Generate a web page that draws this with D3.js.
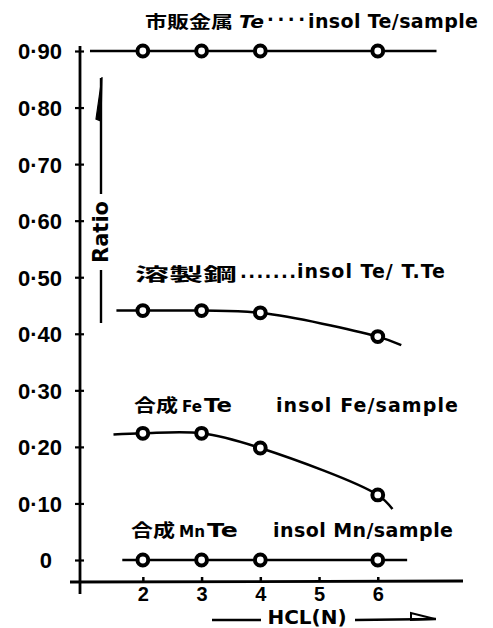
<!DOCTYPE html>
<html>
<head>
<meta charset="utf-8">
<script src="https://cdn.jsdelivr.net/npm/d3@7"></script>
<style>
  body { margin: 0; background: #fff; }
  text { font-family: "DejaVu Sans", sans-serif; font-weight: bold; fill: #000; }
  .tick text { font-family: "Liberation Sans", Arial, sans-serif; }
  .jp { font-family: "Noto Sans CJK JP", sans-serif; font-weight: bold; }
</style>
</head>
<body>
<div id="chart"></div>
<script>
// data
const hcl = [2, 3, 4, 6];
const commercialTe = [0.90, 0.90, 0.90, 0.90];   // 市販金属Te  insol Te/sample
const steelTe = [0.441, 0.441, 0.437, 0.395];    // 溶製鋼  insol Te/T.Te
const feTe = [0.224, 0.224, 0.198, 0.115];       // 合成FeTe  insol Fe/sample
const mnTe = [0, 0, 0, 0];                       // 合成MnTe  insol Mn/sample

// where each drawn curve starts and ends (HCL N, ratio)
const commercialEnds = [[1.1, 0.90], [7.0, 0.90]];
const steelEnds = [[1.55, 0.441], [6.4, 0.38]];
const feEnds = [[1.5, 0.222], [6.25, 0.09]];
const mnEnds = [[1.65, 0], [6.5, 0]];

const yTicks = [0, 0.1, 0.2, 0.3, 0.4, 0.5, 0.6, 0.7, 0.8, 0.9];
const xTicks = [2, 3, 4, 5, 6];

const width = 493;
const height = 628;

const svg = d3.select("#chart")
    .append("svg")
    .attr("width", width)
    .attr("height", height);

const x = d3.scaleLinear().domain([0.93, 7.4]).range([80, 460]);
const y = d3.scaleLinear().domain([0, 0.9]).range([560, 51]);

// axis lines (hand drawn look: y axis runs past the x axis)
svg.append("line")
    .attr("x1", x(0.93)).attr("x2", x(0.93))
    .attr("y1", 46).attr("y2", 594)
    .attr("stroke", "#000").attr("stroke-width", 2.8);

svg.append("line")
    .attr("x1", 70).attr("x2", 463)
    .attr("y1", 582).attr("y2", 581)
    .attr("stroke", "#000").attr("stroke-width", 2.8);

// y axis ticks and labels
const yAxis = svg.append("g")
    .attr("transform", `translate(${x(0.93)},0)`)
    .call(d3.axisLeft(y)
        .tickValues(yTicks)
        .tickSize(5)
        .tickPadding(13)
        .tickFormat(d => d === 0 ? "0" : d3.format(".2f")(d).replace(".", "·")));
yAxis.select(".domain").remove();
yAxis.selectAll(".tick line").attr("x1", -5).attr("x2", 4).attr("stroke-width", 2.2);
yAxis.selectAll(".tick text")
    .attr("font-size", 22)
    .attr("font-family", null)
    .attr("dy", "0.36em");
yAxis.selectAll(".tick").filter(d => d === 0).select("text").attr("x", -28);

// x axis ticks and labels
const xAxis = svg.append("g")
    .attr("transform", "translate(0,581)")
    .call(d3.axisBottom(x)
        .tickValues(xTicks)
        .tickSize(0)
        .tickPadding(6)
        .tickFormat(d3.format("d")));
xAxis.select(".domain").remove();
xAxis.selectAll(".tick").append("line")
    .attr("y1", -4).attr("y2", 0)
    .attr("stroke", "#000").attr("stroke-width", 2.5);
xAxis.selectAll(".tick text")
    .attr("font-size", 20)
    .attr("font-family", null)
    .attr("dy", "0.71em");

// series curves and circles
const line = d3.line()
    .x(d => x(d[0]))
    .y(d => y(d[1]))
    .curve(d3.curveCatmullRom.alpha(0.5));

const series = [
    { values: commercialTe, ends: commercialEnds },
    { values: steelTe, ends: steelEnds },
    { values: feTe, ends: feEnds },
    { values: mnTe, ends: mnEnds }
];

series.forEach(s => {
    const pts = [s.ends[0]].concat(hcl.map((h, i) => [h, s.values[i]]), [s.ends[1]]);
    svg.append("path")
        .attr("d", line(pts))
        .attr("fill", "none")
        .attr("stroke", "#000")
        .attr("stroke-width", 2.5);

    svg.selectAll(null)
        .data(hcl.map((h, i) => [h, s.values[i]]))
        .enter().append("circle")
        .attr("cx", d => x(d[0]))
        .attr("cy", d => y(d[1]))
        .attr("r", 5.4)
        .attr("fill", "#fff")
        .attr("stroke", "#000")
        .attr("stroke-width", 4);
});

// series labels: each piece placed (and where needed stretched) as in the picture
function piece(xp, yp, str, size, len, opts = {}) {
    const t = svg.append("text")
        .attr("x", xp).attr("y", yp)
        .attr("font-size", size)
        .text(str);
    if (len) t.attr("textLength", len).attr("lengthAdjust", opts.glyphs ? "spacingAndGlyphs" : "spacing");
    if (opts.cls) t.attr("class", opts.cls);
    if (opts.italic) t.attr("font-style", "italic");
    return t;
}

piece(145, 28, "市販金属", 17, 88, { cls: "jp", glyphs: true });
piece(239, 28, "Te", 18, 25, { italic: true, glyphs: true });
piece(267, 26, "····", 18, 38, {});
piece(308, 28, "insol Te/sample", 19, 170);

piece(135, 281, "溶製鋼", 18, 102, { cls: "jp", glyphs: true });
piece(240, 278, ".......", 18, 56);
piece(297, 278, "insol Te/ T.Te", 19, 148);

piece(134, 412, "合成", 18, 44, { cls: "jp", glyphs: true });
piece(182, 412, "Fe", 15, 20, { glyphs: true });
piece(204, 412, "Te", 19, 28, { glyphs: true });
piece(276, 412, "insol Fe/sample", 19, 182);

piece(131, 537, "合成", 18, 44, { cls: "jp", glyphs: true });
piece(179, 537, "Mn", 15, 26, { glyphs: true });
piece(207, 537, "Te", 19, 31, { glyphs: true });
piece(273, 537, "insol Mn/sample", 19, 180);

// y axis title with its arrow
svg.append("text")
    .attr("transform", "translate(108,232) rotate(-90)")
    .attr("text-anchor", "middle")
    .attr("font-size", 21)
    .text("Ratio");

svg.append("line")
    .attr("x1", 101).attr("x2", 101).attr("y1", 78).attr("y2", 194)
    .attr("stroke", "#000").attr("stroke-width", 2.4);
svg.append("path")
    .attr("d", "M102,77 L96,119 L101,121 Z")
    .attr("fill", "#000").attr("stroke", "#000").attr("stroke-width", 1.2);
svg.append("line")
    .attr("x1", 101).attr("x2", 101).attr("y1", 270).attr("y2", 323)
    .attr("stroke", "#000").attr("stroke-width", 2.4);

// x axis title with its arrow
svg.append("text")
    .attr("x", 307).attr("y", 624)
    .attr("text-anchor", "middle")
    .attr("font-size", 20)
    .text("HCL(N)");

svg.append("line")
    .attr("x1", 212).attr("x2", 261).attr("y1", 620).attr("y2", 620)
    .attr("stroke", "#000").attr("stroke-width", 2.4);
svg.append("line")
    .attr("x1", 355).attr("x2", 436).attr("y1", 620).attr("y2", 619)
    .attr("stroke", "#000").attr("stroke-width", 2.4);
svg.append("path")
    .attr("d", "M411,620 L411,613 L435,619 Z")
    .attr("fill", "none").attr("stroke", "#000").attr("stroke-width", 2);
</script>
</body>
</html>
